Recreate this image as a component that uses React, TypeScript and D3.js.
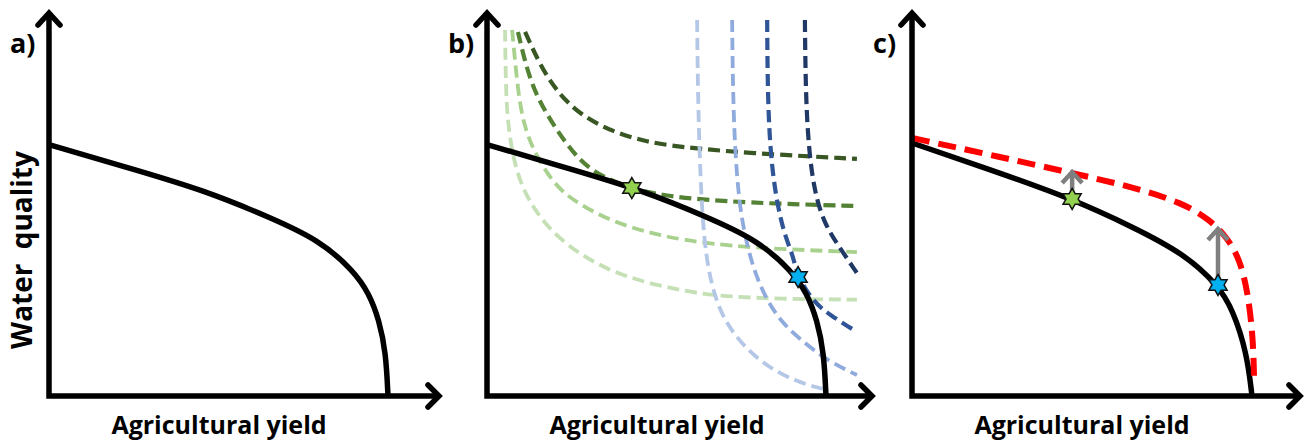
import React from "react";
import * as d3 from "d3";

type P = [number, number];

// Production possibility frontier (panels a and b), units 0-100
const frontierAB: P[] = [
  [0, 99.4], [25.6, 89.3], [45.3, 81.4], [64.7, 70.8], [79.4, 61.7],
  [89.4, 49.8], [94.1, 40.7], [97.1, 30.0], [99.1, 17.0], [99.7, 0],
];
// Panel c frontier (slightly more bulged)
const frontierC: P[] = [
  [0, 100], [25.9, 88.1], [47.1, 77.9], [65.0, 66.8], [79.7, 56.5],
  [90.0, 43.9], [94.4, 34.0], [98.5, 17.0], [100, 0],
];
// Panel c improved frontier (red dashed)
const frontierImproved: P[] = [
  [0, 102.0], [25.9, 94.5], [47.1, 88.1], [65.0, 82.6], [79.7, 76.3],
  [87.6, 69.6], [92.6, 62.8], [96.5, 53.8], [98.8, 40.7], [100.3, 23.3], [100.6, 7.5],
];

// Green indifference curves (water-quality preference)
const greenCurves: { color: string; pts: P[] }[] = [
  { color: "#c5e0b4", pts: [[5.3, 144.7], [5.5, 125], [5.9, 111.1], [7.4, 95.3], [10.6, 80.6], [17.6, 66.4], [27.4, 55.7], [37.1, 49.0], [47.1, 44.7], [56.8, 41.9], [66.5, 39.6], [86.2, 38.3], [108.8, 38.1]] },
  { color: "#a9d18e", pts: [[7.4, 144.7], [8.8, 124.1], [10.6, 107.1], [14.7, 94.1], [20.6, 82.2], [27.4, 75.5], [37.1, 68.8], [47.1, 64.8], [56.8, 61.7], [76.5, 58.5], [108.8, 56.9]] },
  { color: "#548235", pts: [[9.1, 143.9], [12.6, 124.1], [17.6, 111.1], [23.5, 99.2], [29.4, 90.1], [38.2, 83.8], [51.8, 78.7], [76.5, 76.3], [108.8, 75.1]] },
  { color: "#385723", pts: [[11.2, 143.9], [15.6, 130.8], [20.6, 120.2], [27.4, 111.1], [37.1, 104.3], [47.1, 100.4], [56.8, 98.4], [76.5, 96.0], [108.8, 93.7]] },
];
// Blue indifference curves (yield preference)
const blueCurves: { color: string; pts: P[] }[] = [
  { color: "#b4c7e7", pts: [[61.8, 148.6], [62.1, 111.1], [63.2, 71.5], [64.7, 51.8], [67.6, 36.0], [72.4, 24.1], [81.2, 12.3], [91.2, 5.5], [98.8, 2.8]] },
  { color: "#8faadc", pts: [[72.1, 148.6], [72.4, 111.1], [73.8, 78.3], [76.5, 58.5], [80.3, 42.7], [86.2, 29.2], [94.1, 20.2], [100.9, 13.4], [108.8, 8.3]] },
  { color: "#2f5597", pts: [[82.4, 148.6], [82.6, 111.1], [84.1, 84.6], [87.1, 64.8], [90.0, 55.7], [91.2, 47.8], [95.9, 37.2], [100.9, 32.0], [108.8, 25.3]] },
  { color: "#203864", pts: [[93.5, 148.6], [93.8, 111.1], [95.6, 84.6], [98.8, 68.8], [103.8, 58.5], [108.8, 48.6]] },
];

const starsB: { x: number; y: number; fill: string }[] = [
  { x: 42.6, y: 82.2, fill: "#92d050" },
  { x: 91.5, y: 47.0, fill: "#00b0f0" },
];
const starsC: { x: number; y: number; tip: number; fill: string }[] = [
  { x: 47.1, y: 77.9, tip: 89.3, fill: "#92d050" },
  { x: 90.0, y: 43.9, tip: 66.8, fill: "#00b0f0" },
];

const panelLabels = ["a)", "b)", "c)"];
const xTitle = "Agricultural yield";
const yTitle = "Water quality";

const W = 1311, H = 443;
const originsX = [49, 487, 912];
const axisTipX = [441, 874, 1302];
const baseY = 396, tipY = 11;
const FONT = "'Open Sans', sans-serif";

function scales(ox: number) {
  const x = d3.scaleLinear().domain([0, 100]).range([ox, ox + 340]);
  const y = d3.scaleLinear().domain([0, 100]).range([baseY, baseY - 253]);
  return { x, y };
}

function hexagram(cx: number, cy: number, R: number) {
  const r = R / Math.sqrt(3);
  const pts: P[] = d3.range(12).map((i) => {
    const a = (i * Math.PI) / 6 - Math.PI / 2;
    const rr = i % 2 === 0 ? R : r;
    return [cx + rr * Math.cos(a), cy + rr * Math.sin(a)];
  });
  return (d3.line()(pts) || "") + "Z";
}

function Axes({ i }: { i: number }) {
  const ox = originsX[i];
  const tx = axisTipX[i];
  return (
    <g fill="none" stroke="#000" strokeWidth={5.5}>
      <path d={`M${ox},${tipY + 2} L${ox},${baseY} L${tx - 2},${baseY}`} strokeLinejoin="miter" />
      <path d={`M${ox - 11},${tipY + 14} L${ox},${tipY + 2} L${ox + 11},${tipY + 14}`} strokeLinecap="round" strokeLinejoin="miter" />
      <path d={`M${tx - 13},${baseY - 11} L${tx - 2},${baseY} L${tx - 13},${baseY + 11}`} strokeLinecap="round" strokeLinejoin="miter" />
    </g>
  );
}

export default function App() {
  const panels = originsX.map((ox) => scales(ox));
  const mkLine = (s: ReturnType<typeof scales>, c: d3.CurveFactory) =>
    d3.line<P>().x((d) => s.x(d[0])).y((d) => s.y(d[1])).curve(c);

  const la = mkLine(panels[0], d3.curveBasis);
  const lb = mkLine(panels[1], d3.curveBasis);
  const lc = mkLine(panels[2], d3.curveBasis);

  return (
    <svg width={W} height={H} style={{ display: "block", position: "absolute", left: 0, top: 0, background: "#fff" }}>
      <rect width={W} height={H} fill="#fff" />
      {/* panel b dashed indifference curves */}
      {greenCurves.map((c, k) => (
        <path key={"g" + k} d={lb(c.pts) || ""} fill="none" stroke={c.color} strokeWidth={k >= 2 ? 4.2 : 3.8} strokeDasharray="12 6" />
      ))}
      {blueCurves.map((c, k) => (
        <path key={"b" + k} d={lb(c.pts) || ""} fill="none" stroke={c.color} strokeWidth={k >= 2 ? 4.2 : 3.8} strokeDasharray="12 6" />
      ))}

      {/* frontiers */}
      <path d={la(frontierAB) || ""} fill="none" stroke="#000" strokeWidth={5.5} />
      <path d={lb(frontierAB) || ""} fill="none" stroke="#000" strokeWidth={5.5} />
      <path d={lc(frontierC) || ""} fill="none" stroke="#000" strokeWidth={5.5} />
      <path d={lc(frontierImproved) || ""} fill="none" stroke="#ff0000" strokeWidth={6} strokeDasharray="18 9" />

      {/* axes */}
      {[0, 1, 2].map((i) => <Axes key={i} i={i} />)}

      {/* panel c arrows */}
      {starsC.map((s, k) => {
        const px = panels[2].x(s.x);
        const py0 = panels[2].y(s.y) - 6;
        const py1 = panels[2].y(s.tip) + 2;
        return (
          <g key={"ar" + k} fill="none" stroke="#7f7f7f" strokeWidth={4.5} strokeLinecap="butt">
            <path d={`M${px},${py0} L${px},${py1}`} />
            <path d={`M${px - 10},${py1 + 11} L${px},${py1} L${px + 10},${py1 + 11}`} strokeLinejoin="miter" />
          </g>
        );
      })}

      {/* stars */}
      {starsB.map((s, k) => (
        <path key={"sb" + k} d={hexagram(panels[1].x(s.x), panels[1].y(s.y), 10.5)} fill={s.fill} stroke="#111" strokeWidth={1.5} strokeLinejoin="miter" />
      ))}
      {starsC.map((s, k) => (
        <path key={"sc" + k} d={hexagram(panels[2].x(s.x), panels[2].y(s.y), 10.5)} fill={s.fill} stroke="#111" strokeWidth={1.5} strokeLinejoin="miter" />
      ))}

      {/* texts */}
      {panelLabels.map((t, i) => (
        <text key={t} x={originsX[i] - 39} y={53} fontFamily={FONT} fontWeight={700} fontSize={27} fill="#000">{t}</text>
      ))}
      {panels.map((s, i) => (
        <text key={"xt" + i} x={s.x(50)} y={434} textAnchor="middle" fontFamily={FONT} fontWeight={700} fontSize={25} fill="#000">{xTitle}</text>
      ))}
      <text transform={`translate(32,250) rotate(-90)`} textAnchor="middle" fontFamily={FONT} fontWeight={700} fontSize={28} fill="#000" style={{ wordSpacing: "7px" }}>{yTitle}</text>
    </svg>
  );
}
